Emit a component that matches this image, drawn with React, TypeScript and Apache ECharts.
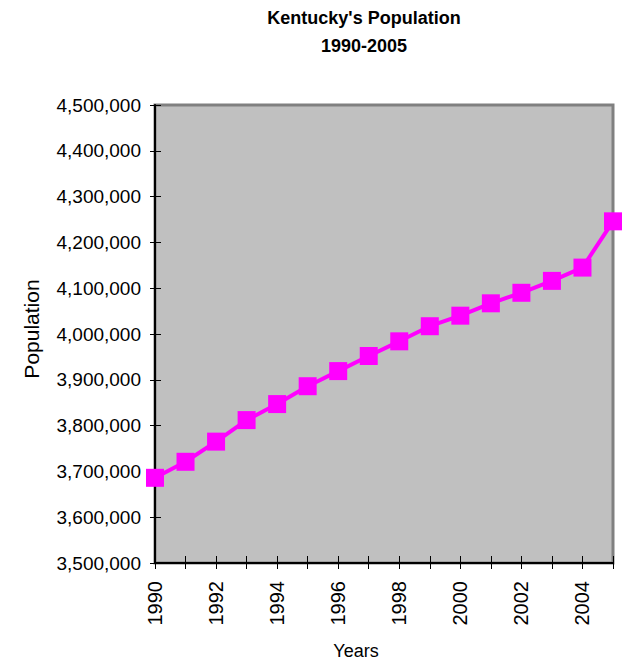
import React, { useEffect, useRef } from "react";
import * as echarts from "echarts";

const years = ["1990","1991","1992","1993","1994","1995","1996","1997","1998","1999","2000","2001","2002","2003","2004","2005"];
const population = [3686000, 3721000, 3765000, 3812000, 3847000, 3886000, 3919000, 3952000, 3984000, 4017000, 4040000, 4067000, 4090000, 4116000, 4145000, 4246000];
const titleLines = ["Kentucky's Population", "1990-2005"];
const yMin = 3500000;
const yMax = 4500000;
const yStep = 100000;

const fmt = (v: number) => v.toLocaleString("en-US");
const FONT = "Liberation Sans, Arial, sans-serif";

export default function App() {
  const ref = useRef<HTMLDivElement>(null);
  useEffect(() => {
    if (!ref.current) return;
    const chart = echarts.init(ref.current, null, { renderer: "svg" });
    chart.setOption({
      animation: false,
      textStyle: { fontFamily: FONT, color: "#000" },
      title: {
        text: titleLines.join("\n"),
        left: 364,
        top: 4,
        padding: 0,
        textAlign: "center",
        textStyle: { fontFamily: FONT, fontSize: 18, fontWeight: "bold", color: "#000", lineHeight: 28 },
      },
      grid: {
        left: 155, right: 9, top: 105, bottom: 99,
        show: true, backgroundColor: "#c0c0c0", borderColor: "#808080", borderWidth: 3,
      },
      xAxis: [
        {
          type: "category", data: years, boundaryGap: false, position: "bottom",
          axisLine: { lineStyle: { color: "#000", width: 2 } },
          axisTick: { show: true, interval: 0, length: 6, lineStyle: { color: "#000", width: 1 } },
          axisLabel: { interval: 1, rotate: 90, margin: 18, fontSize: 20, color: "#000", fontFamily: FONT },
          splitLine: { show: false },
        },
        {
          type: "category", data: years, boundaryGap: false, position: "bottom", offset: 0,
          axisLine: { show: false },
          axisTick: { show: true, inside: true, interval: 0, length: 7, lineStyle: { color: "#000", width: 1 } },
          axisLabel: { show: false },
          splitLine: { show: false },
        },
      ],
      yAxis: [
        {
          type: "value", min: yMin, max: yMax, interval: yStep, position: "left",
          axisLine: { show: true, lineStyle: { color: "#000", width: 2 } },
          axisTick: { show: true, length: 5, lineStyle: { color: "#000", width: 1 } },
          axisLabel: { formatter: (v: number) => fmt(v), margin: 14, fontSize: 19, color: "#000", fontFamily: FONT },
          splitLine: { show: false },
        },
        {
          type: "value", min: yMin, max: yMax, interval: yStep, position: "left", offset: 0,
          axisLine: { show: false },
          axisTick: { show: true, inside: true, length: 6, lineStyle: { color: "#000", width: 1 } },
          axisLabel: { show: false },
          splitLine: { show: false },
        },
      ],
      series: [
        {
          type: "line", data: population, xAxisIndex: 0, yAxisIndex: 0,
          symbol: "rect", symbolSize: 18,
          lineStyle: { color: "#ff00ff", width: 4 },
          itemStyle: { color: "#ff00ff" },
          clip: false,
        },
      ],
      graphic: [
        {
          type: "text", x: 31, y: 329, rotation: Math.PI / 2,
          style: { text: "Population", fontSize: 21, fontFamily: FONT, fill: "#000", textAlign: "center", textVerticalAlign: "middle" },
        },
        {
          type: "text", x: 356, y: 651,
          style: { text: "Years", fontSize: 18, fontFamily: FONT, fill: "#000", textAlign: "center", textVerticalAlign: "middle" },
        },
      ],
    });
    return () => chart.dispose();
  }, []);
  return <div ref={ref} style={{ width: 622, height: 662, position: "absolute", left: 0, top: 0 }} />;
}
